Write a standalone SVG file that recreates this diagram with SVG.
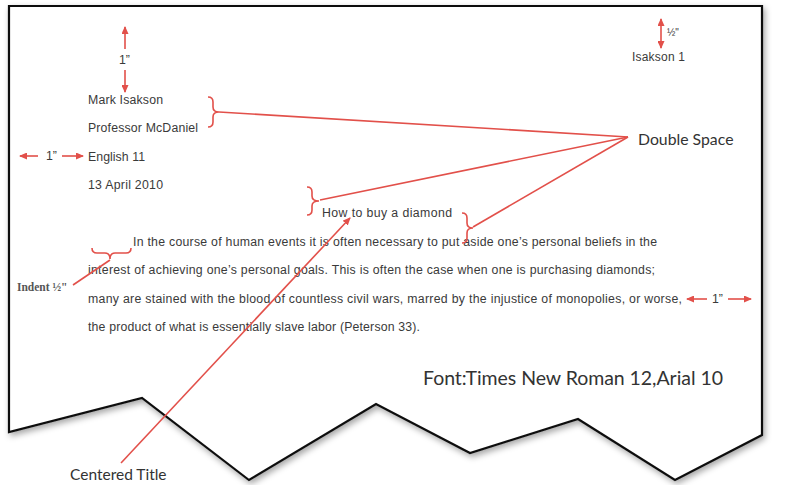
<svg xmlns="http://www.w3.org/2000/svg" width="785" height="485" viewBox="0 0 785 485">
<defs>
<style>
.t{font-family:"Liberation Sans",Arial,sans-serif;font-size:12.3px;fill:#3a3a3a}
.g{font-family:Lato,"Open Sans",sans-serif;fill:#333}
.r{stroke:#e2504a;stroke-width:1.6;fill:none}
.a{stroke:#e2504a;stroke-width:1.6;fill:none;marker-end:url(#ah)}
.aa{stroke:#e2504a;stroke-width:1.6;fill:none;marker-end:url(#ah);marker-start:url(#ah)}
</style>
<marker id="ah" markerUnits="userSpaceOnUse" markerWidth="8" markerHeight="7" refX="7" refY="3.5" orient="auto-start-reverse">
<path d="M0,0 L8,3.5 L0,7 z" fill="#e2504a"/>
</marker>
<filter id="sh" x="-5%" y="-5%" width="110%" height="115%">
<feDropShadow dx="2" dy="3" stdDeviation="3" flood-color="#000" flood-opacity="0.35"/>
</filter>
</defs>
<g id="page">
<path d="M9,6 L762,6 L762,435 L675,480 L578,419 L470,453 L376,404 L249,480 L142,398 L9,432 Z" fill="#fff" stroke="#111" stroke-width="2.2" stroke-linejoin="miter" filter="url(#sh)"/>
</g>
<g id="header">
<text class="t" x="632" y="61" textLength="53" style="font-size:12px">Isakson 1</text>
<text class="t" x="667" y="36" style="font-size:10px">½"</text>
<text class="t" x="88" y="104" textLength="75">Mark Isakson</text>
<text class="t" x="88" y="132" textLength="110">Professor McDaniel</text>
<text class="t" x="88" y="161" textLength="57">English 11</text>
<text class="t" x="88" y="189" textLength="75">13 April 2010</text>
</g>
<g id="title"><text class="t" x="322" y="217" textLength="130">How to buy a diamond</text></g>
<g id="body">
<text class="t" x="133" y="246" textLength="524">In the course of human events it is often necessary to put aside one’s personal beliefs in the</text>
<text class="t" x="88" y="274" textLength="567">interest of achieving one’s personal goals. This is often the case when one is purchasing diamonds;</text>
<text class="t" x="88" y="303" textLength="594">many are stained with the blood of countless civil wars, marred by the injustice of monopolies, or worse,</text>
<text class="t" x="88" y="331" textLength="332">the product of what is essentially slave labor (Peterson 33).</text>
</g>
<g id="margin-top"><text class="t" x="119" y="64">1”</text></g>
<g id="margin-left"><text class="t" x="46" y="160">1”</text></g>
<g id="margin-right"><text class="t" x="712" y="303">1”</text></g>
<g id="indent"><text x="17" y="291" style="font-family:'Liberation Serif',serif;font-size:11.5px;font-weight:bold;fill:#555">Indent ½"</text></g>
<g id="double-space"><text class="g" x="638" y="145" style="font-size:15.8px">Double Space</text></g>
<g id="centered-title"><text class="g" x="70" y="480" style="font-size:15.5px">Centered Title</text></g>
<g id="font-note"><text class="g" x="423" y="385" textLength="300" style="font-size:19.5px">Font:Times New Roman 12,Arial 10</text></g>
<g id="connectors">
<line class="a" x1="125" y1="49" x2="125" y2="27"/>
<line class="a" x1="125" y1="70" x2="125" y2="92"/>
<line class="aa" x1="661" y1="19" x2="661" y2="48"/>
<line class="a" x1="38" y1="156" x2="20" y2="156"/>
<line class="a" x1="62" y1="156" x2="83" y2="156"/>
<line class="a" x1="707" y1="299" x2="687" y2="299"/>
<line class="a" x1="728" y1="299" x2="751" y2="299"/>
<path class="r" d="M208,97 Q213,97 213,102 L213,107 Q213,112 219,112 Q213,112 213,117 L213,122 Q213,127 208,127"/>
<path class="r" d="M307,187 Q312,187 312,192 L312,196 Q312,201 319,201 Q312,201 312,206 L312,210 Q312,215 307,215"/>
<path class="r" d="M462,213 Q467,213 467,218 L467,223 Q467,228 473,228 Q467,228 467,233 L467,238 Q467,243 462,243"/>
<path class="r" d="M92,248 Q92,253 97,253 L105,253 Q110,253 110,259 Q110,253 115,253 L126,253 Q131,253 131,248"/>
<line class="r" x1="219" y1="112" x2="628" y2="137"/>
<line class="r" x1="320" y1="200" x2="628" y2="137"/>
<line class="r" x1="473" y1="227" x2="628" y2="137"/>
<line class="r" x1="110" y1="260" x2="73" y2="285"/>
<line class="a" x1="121" y1="463" x2="350" y2="218"/>
</g>
</svg>
